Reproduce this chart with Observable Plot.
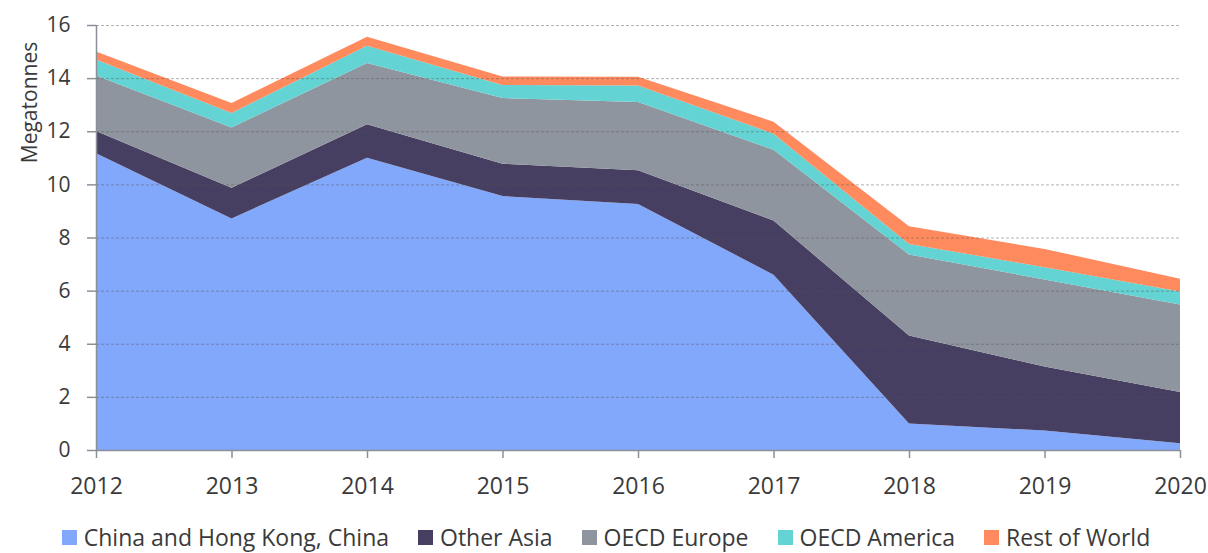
<!DOCTYPE html>
<html>
<head>
<meta charset="utf-8">
<script src="https://cdn.jsdelivr.net/npm/d3@7"></script>
<script src="https://cdn.jsdelivr.net/npm/@observablehq/plot@0.6"></script>
<style>
  html, body { margin: 0; padding: 0; background: #fff; }
  body { width: 1208px; height: 553px; overflow: hidden; font-family: "Open Sans", "Noto Sans", sans-serif; }
  #chart svg { display: block; }
  #legend { display: flex; justify-content: center; align-items: center; gap: 29px; height: 44px; font-size: 23px; color: #3a3a3a; margin-left: 4px; line-height: 1; }
  #legend .item { display: flex; align-items: center; gap: 7px; }
  #legend .sw { width: 15px; height: 15px; display: inline-block; }
</style>
</head>
<body>
<div id="chart"></div>
<div id="legend"></div>
<script>
const years = [2012, 2013, 2014, 2015, 2016, 2017, 2018, 2019, 2020];
const seriesNames = ["China and Hong Kong, China", "Other Asia", "OECD Europe", "OECD America", "Rest of World"];
const seriesColors = ["#82a8fc", "#473f61", "#8f959e", "#63d3d3", "#ff8a5e"];
const chinaHK    = [11.17, 8.72, 11.00, 9.56, 9.26, 6.60, 1.00, 0.73, 0.25];
const otherAsia  = [0.84, 1.15, 1.26, 1.22, 1.27, 2.04, 3.31, 2.41, 1.93];
const oecdEurope = [2.09, 2.27, 2.31, 2.47, 2.57, 2.66, 3.05, 3.28, 3.30];
const oecdAmerica= [0.60, 0.55, 0.65, 0.49, 0.62, 0.61, 0.40, 0.46, 0.49];
const restWorld  = [0.30, 0.37, 0.34, 0.32, 0.33, 0.45, 0.66, 0.69, 0.48];
const yTicks = [0, 2, 4, 6, 8, 10, 12, 14, 16];
const yLabel = "Megatonnes";

const seriesValues = [chinaHK, otherAsia, oecdEurope, oecdAmerica, restWorld];
const data = [];
seriesNames.forEach((s, i) => years.forEach((yr, j) => data.push({year: yr, series: s, value: seriesValues[i][j]})));

const textColor = "#3a3a3a";
const axisColor = "#8a8f98";

const chart = Plot.plot({
  width: 1208,
  height: 515,
  marginLeft: 96,
  marginRight: 28,
  marginTop: 25,
  marginBottom: 65,
  style: { fontFamily: "'Open Sans', 'Noto Sans', sans-serif", fontSize: "20px", color: textColor, background: "#fff" },
  x: { domain: [2012, 2020], ticks: years, tickFormat: "d" },
  y: { domain: [0, 16], ticks: yTicks },
  color: { domain: seriesNames, range: seriesColors },
  marks: [
    Plot.areaY(data, { x: "year", y: "value", z: "series", fill: "series", order: seriesNames }),
    Plot.gridY(yTicks.filter(d => d > 0), { stroke: "#555", strokeOpacity: 0.45, strokeDasharray: "3,2", strokeWidth: 1 }),
    Plot.ruleY([0], { stroke: axisColor, strokeWidth: 1.5 }),
    Plot.ruleX([2012], { stroke: axisColor, strokeWidth: 1.5 }),
    Plot.axisY(yTicks, { tickSize: 9, tickPadding: 17, stroke: axisColor, strokeWidth: 1.5, fill: textColor, label: null, fontSize: 21 }),
    Plot.axisX(years, { tickSize: 8, tickPadding: 19, stroke: axisColor, strokeWidth: 1.5, fill: textColor, label: null, tickFormat: "d", fontSize: 23 }),
    Plot.text([yLabel], { text: d => d, frameAnchor: "top-left", rotate: -90, dx: -74, dy: 77, textAnchor: "middle", fill: textColor, fontSize: 21 })
  ]
});
document.getElementById("chart").appendChild(chart);

const legend = document.getElementById("legend");
seriesNames.forEach((s, i) => {
  const item = document.createElement("div");
  item.className = "item";
  const sw = document.createElement("span");
  sw.className = "sw";
  sw.style.background = seriesColors[i];
  const t = document.createElement("span");
  t.textContent = s;
  item.appendChild(sw);
  item.appendChild(t);
  legend.appendChild(item);
});
</script>
</body>
</html>
